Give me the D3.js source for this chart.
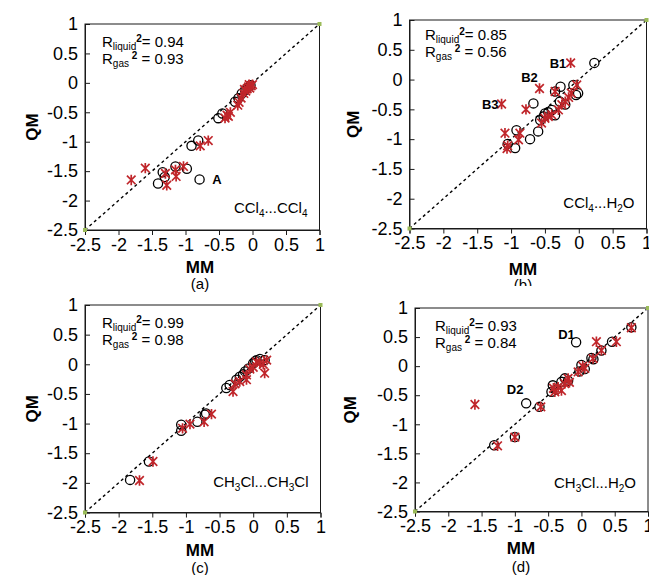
<!DOCTYPE html>
<html><head><meta charset="utf-8">
<script src="https://cdn.jsdelivr.net/npm/d3@7"></script>
<style>body{margin:0;background:#fff}svg{display:block;font-family:"Liberation Sans",Arial,sans-serif}</style>
</head><body><svg id="c" width="649" height="575"></svg>
<script>
const tickValues = [-2.5, -2, -1.5, -1, -0.5, 0, 0.5, 1];
const tickLabels = ["-2.5", "-2", "-1.5", "-1", "-0.5", "0", "0.5", "1"];

const aLiquid = [[-1.41,-1.71],[-1.34,-1.52],[-1.31,-1.60],[-1.15,-1.42],[-0.98,-1.46],[-0.91,-1.07],[-0.81,-0.98],[-0.79,-1.64],[-0.51,-0.60],[-0.45,-0.52],[-0.26,-0.32],[-0.21,-0.26],[-0.16,-0.18],[-0.11,-0.12],[-0.07,-0.08],[-0.03,-0.04]];
const aGas = [[-1.81,-1.65],[-1.60,-1.45],[-1.30,-1.54],[-1.28,-1.74],[-1.15,-1.48],[-1.14,-1.59],[-1.03,-1.42],[-0.78,-1.07],[-0.66,-0.98],[-0.41,-0.60],[-0.38,-0.55],[-0.33,-0.50],[-0.36,-0.57],[-0.22,-0.38],[-0.20,-0.33],[-0.17,-0.26],[-0.13,-0.18],[-0.10,-0.14],[-0.08,-0.10],[-0.06,-0.07],[-0.04,-0.09],[-0.02,-0.05],[0.0,-0.03],[-0.05,-0.03],[-0.12,-0.11]];

const bLiquid = [[0.23,0.28],[-0.27,-0.12],[-0.08,-0.09],[-0.01,-0.23],[-0.04,-0.26],[-0.35,-0.20],[-0.67,-0.40],[-0.28,-0.37],[-0.20,-0.42],[-0.52,-0.62],[-0.57,-0.68],[-0.50,-0.57],[-0.40,-0.51],[-0.45,-0.55],[-0.60,-0.87],[-0.72,-1.00],[-0.92,-0.85],[-0.94,-1.15],[-1.05,-1.08],[-0.35,-0.60]];
const bGas = [[-0.12,0.28],[-0.58,-0.15],[-1.14,-0.41],[-0.78,-0.50],[-1.09,-0.90],[-1.05,-1.11],[-1.06,-1.16],[-0.89,-1.01],[-0.87,-0.90],[-0.35,-0.20],[-0.03,-0.09],[-0.11,-0.23],[-0.20,-0.37],[-0.30,-0.51],[-0.40,-0.59],[-0.50,-0.65],[-0.55,-0.73],[-0.45,-0.62],[-0.15,-0.30],[-0.25,-0.42]];

const cLiquid = [[-1.83,-1.95],[-1.55,-1.64],[-1.07,-1.02],[-1.07,-1.12],[-0.83,-0.97],[-0.72,-0.85],[-0.70,-0.83],[-0.40,-0.40],[-0.35,-0.35],[-0.25,-0.26],[-0.20,-0.21],[-0.12,-0.12],[-0.07,-0.07],[0.0,0.02],[0.05,0.07],[0.10,0.09],[0.17,0.07],[0.03,0.05],[-0.15,-0.17]];
const cGas = [[-1.69,-1.96],[-1.49,-1.64],[-1.05,-1.08],[-0.94,-1.01],[-0.73,-0.97],[-0.62,-0.84],[-0.30,-0.46],[-0.27,-0.33],[-0.20,-0.29],[-0.10,-0.26],[-0.10,-0.18],[0.17,-0.15],[0.20,0.07],[0.10,0.02],[0.05,0.04],[-0.05,-0.08],[0.15,0.0],[0.0,-0.05]];

const dLiquid = [[-0.08,0.41],[0.46,0.42],[0.75,0.67],[0.30,0.27],[0.15,0.14],[0.0,0.02],[-0.03,-0.09],[-0.25,-0.21],[-0.30,-0.27],[-0.43,-0.33],[-0.45,-0.44],[-0.38,-0.40],[-0.20,-0.25],[-0.83,-0.64],[-0.63,-0.70],[-1.0,-1.22],[-1.31,-1.36],[0.05,-0.05],[0.18,0.12]];
const dGas = [[-1.60,-0.66],[-1.26,-1.37],[-1.0,-1.22],[-0.61,-0.70],[0.225,0.42],[0.525,0.42],[0.75,0.66],[0.30,0.27],[0.175,0.13],[0.05,-0.04],[-0.05,-0.10],[-0.20,-0.21],[-0.25,-0.30],[-0.35,-0.36],[-0.40,-0.44],[-0.42,-0.38],[-0.30,-0.42],[-0.18,-0.28],[0.02,0.0]];

const rLiquid = ["0.94", "0.85", "0.99", "0.93"];
const rGas = ["0.93", "0.56", "0.98", "0.84"];
const captions = ["(a)", "(b)", "(c)", "(d)"];
const formulas = [
  [["CCl",0],["4",1],["...CCl",0],["4",1]],
  [["CCl",0],["4",1],["...H",0],["2",1],["O",0]],
  [["CH",0],["3",1],["Cl...CH",0],["3",1],["Cl",0]],
  [["CH",0],["3",1],["Cl...H",0],["2",1],["O",0]]
];
const pointLabels = [
  [["A",-0.6,-1.64]],
  [["B1",-0.43,0.28],["B2",-0.85,0.04],["B3",-1.43,-0.41]],
  [],
  [["D1",-0.35,0.55],["D2",-1.12,-0.4]]
];

const layout = [
  {x0:85, x1:319.5, y0:24, y1:230, cx:200, mmY:273, capY:289, qx:32, rx:102, ry:47, fy:213},
  {x0:409.5, x1:646.5, y0:20, y1:228.5, cx:523, mmY:275, capY:290, qx:353, rx:425, ry:40, fy:208},
  {x0:85, x1:320.5, y0:305, y1:512.5, cx:200, mmY:556, capY:573, qx:32, rx:102, ry:328, fy:487},
  {x0:415, x1:648, y0:308, y1:511.5, cx:521, mmY:554, capY:572, qx:350, rx:435, ry:331, fy:488}
];
const liquids = [aLiquid, bLiquid, cLiquid, dLiquid];
const gases = [aGas, bGas, cGas, dGas];
const red = "#c0262b";

const svg = d3.select("#c");
svg.append("defs").append("clipPath").attr("id","capclip")
  .append("rect").attr("x",480).attr("y",270).attr("width",100).attr("height",16);

layout.forEach((L, i) => {
  const x = d3.scaleLinear().domain([-2.5, 1]).range([L.x0, L.x1]);
  const y = d3.scaleLinear().domain([-2.5, 1]).range([L.y1, L.y0]);
  const g = svg.append("g");

  g.append("rect").attr("x", L.x0).attr("y", L.y0).attr("width", L.x1 - L.x0).attr("height", L.y1 - L.y0)
    .attr("fill", "none").attr("stroke", "#1a1a1a").attr("stroke-width", 1);

  const xa = g.append("g").attr("transform", `translate(0,${L.y1})`)
    .call(d3.axisBottom(x).tickValues(tickValues).tickFormat((d, k) => tickLabels[k]).tickSize(5).tickPadding(3));
  const ya = g.append("g").attr("transform", `translate(${L.x0},0)`)
    .call(d3.axisLeft(y).tickValues(tickValues).tickFormat((d, k) => tickLabels[k]).tickSizeInner(-5).tickSizeOuter(0).tickPadding(7));
  [xa, ya].forEach(a => {
    a.attr("font-size", 18).attr("font-family", "Liberation Sans, Arial, sans-serif");
    a.select(".domain").attr("stroke", "#1a1a1a");
    a.selectAll(".tick line").attr("stroke", "#1a1a1a");
    a.selectAll("text").attr("font-size", 18).attr("fill", "#000");
  });

  g.append("line").attr("x1", x(-2.5)).attr("y1", y(-2.5)).attr("x2", x(1)).attr("y2", y(1))
    .attr("stroke", "#000").attr("stroke-width", 1.4).attr("stroke-dasharray", "3,3");
  g.selectAll(".cm").data([[-2.5,-2.5],[1,1]]).enter().append("rect")
    .attr("x", d => x(d[0]) - 2).attr("y", d => y(d[1]) - 2).attr("width", 4).attr("height", 4).attr("fill", "#9bbb59");

  g.selectAll(".liq").data(liquids[i]).enter().append("circle")
    .attr("cx", d => x(d[0])).attr("cy", d => y(d[1])).attr("r", 4.6)
    .attr("fill", "none").attr("stroke", "#000").attr("stroke-width", 1.3);

  const s = 4.3;
  const star = `M${-s},${-s}L${s},${s}M${-s},${s}L${s},${-s}M0,${-s*1.2}L0,${s*1.2}`;
  g.selectAll(".gas").data(gases[i]).enter().append("path")
    .attr("transform", d => `translate(${x(d[0])},${y(d[1])})`)
    .attr("d", star).attr("stroke", red).attr("stroke-width", 1.7).attr("fill", "none");

  const t1 = g.append("text").attr("x", L.rx).attr("y", L.ry).attr("font-size", 15);
  t1.append("tspan").text("R");
  t1.append("tspan").attr("font-size", 10).attr("dy", 3).text("liquid");
  t1.append("tspan").attr("font-size", 10).attr("dy", -8).attr("font-weight", "bold").text("2");
  t1.append("tspan").attr("dy", 5).text("= " + rLiquid[i]);
  const t2 = g.append("text").attr("x", L.rx).attr("y", L.ry + 17).attr("font-size", 15);
  t2.append("tspan").text("R");
  t2.append("tspan").attr("font-size", 10).attr("dy", 3).text("gas");
  t2.append("tspan").attr("font-size", 10).attr("dy", -8).attr("font-weight", "bold").text(" 2");
  t2.append("tspan").attr("dy", 5).text(i === 1 ? "  = " + rGas[i] : " = " + rGas[i]);

  const f = g.append("text").attr("x", L.x1 - 12).attr("y", L.fy).attr("font-size", 15).attr("text-anchor", "end");
  let prevSub = 0;
  formulas[i].forEach(([txt, sub]) => {
    const ts = f.append("tspan").text(txt);
    if (sub) ts.attr("font-size", 10).attr("dy", prevSub ? 0 : 4);
    else ts.attr("dy", prevSub ? -4 : 0);
    prevSub = sub;
  });

  pointLabels[i].forEach(([txt, px, py]) => {
    g.append("text").attr("x", x(px)).attr("y", y(py) + 5).attr("font-size", 13)
      .attr("font-weight", "bold").text(txt);
  });

  g.append("text").attr("x", L.cx).attr("y", L.mmY).attr("text-anchor", "middle")
    .attr("font-size", 17).attr("font-weight", "bold").text("MM");
  g.append("text").attr("transform", `translate(${L.qx},${(L.y0 + L.y1) / 2}) rotate(-90)`)
    .attr("text-anchor", "middle").attr("dy", "0.35em").attr("font-size", 17).attr("font-weight", "bold").text("QM");
  const cap = g.append("text").attr("x", L.cx).attr("y", L.capY).attr("text-anchor", "middle")
    .attr("font-size", 15).text(captions[i]);
  if (i === 1) cap.attr("clip-path", "url(#capclip)");
});
</script></body></html>
